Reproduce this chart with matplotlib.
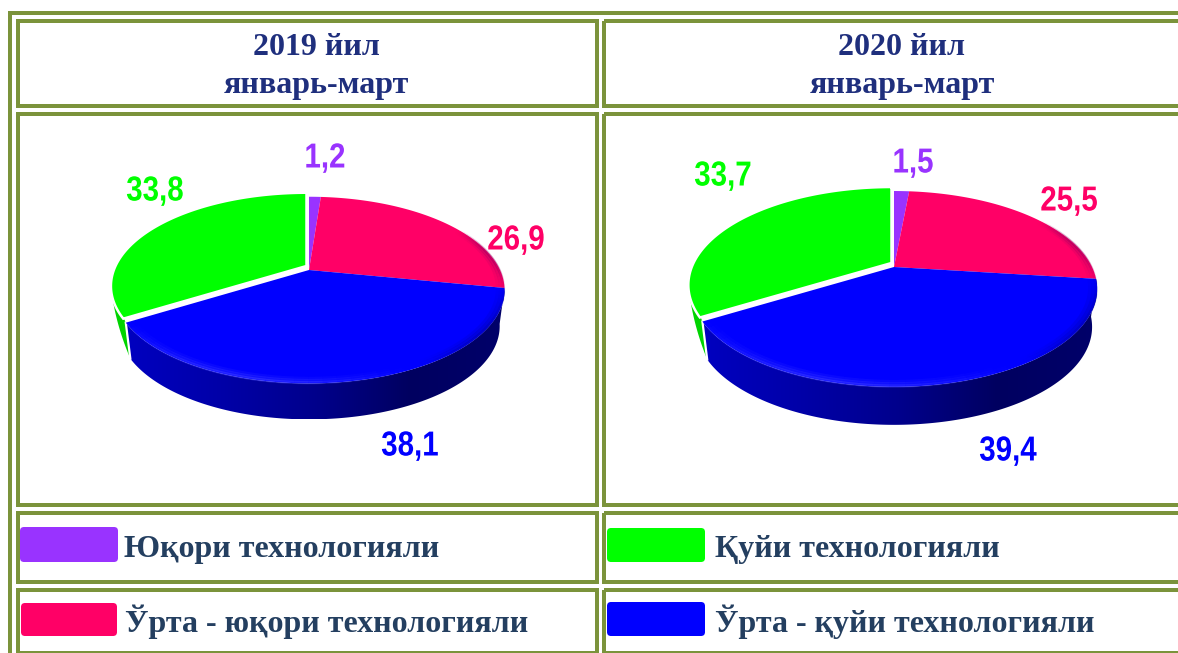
import numpy as np
import matplotlib
matplotlib.use('Agg')
import matplotlib.pyplot as plt
from matplotlib.patches import Polygon, FancyBboxPatch, Rectangle
from matplotlib.patheffects import AbstractPathEffect
from matplotlib.transforms import Affine2D
from matplotlib.colors import LinearSegmentedColormap

titles = ['2019 йил\nянварь-март', '2020 йил\nянварь-март']
categories = ['Юқори технологияли', 'Ўрта - юқори технологияли', 'Ўрта - қуйи технологияли', 'Қуйи технологияли']
values_2019 = [1.2, 26.9, 38.1, 33.8]
values_2020 = [1.5, 25.5, 39.4, 33.7]
labels_2019 = ['1,2', '26,9', '38,1', '33,8']
labels_2020 = ['1,5', '25,5', '39,4', '33,7']
colors = ['#9933ff', '#ff0066', '#0000ff', '#00ff00']

OLIVE = '#7b933b'
SERIF = ['Liberation Serif', 'DejaVu Serif']
SANS = ['Liberation Sans', 'DejaVu Sans']

fig = plt.figure(figsize=(11.78, 6.53), dpi=100)
ax = fig.add_axes([0, 0, 1, 1])
ax.set_xlim(0, 1178)
ax.set_ylim(653, 0)
ax.axis('off')
ax.set_autoscale_on(False)


class Squeeze(AbstractPathEffect):
    # no condensed font here, so narrow the glyphs around the text anchor
    def __init__(self, sx, x0):
        self.sx = sx
        self.x0 = x0

    def draw_path(self, renderer, gc, tpath, affine, rgbFace=None):
        tr = affine + Affine2D().translate(-self.x0, 0).scale(self.sx, 1).translate(self.x0, 0)
        renderer.draw_path(gc, tpath, tr, rgbFace)


def box(x0, y0, x1, y1):
    ax.add_patch(Rectangle((x0, y0), x1 - x0, y1 - y0, fill=False, ec=OLIVE, lw=2.88,
                           joinstyle='miter', zorder=1))


# table frame
ax.plot([1178, 10, 10], [13, 13, 653], color=OLIVE, lw=2.88, solid_capstyle='butt', solid_joinstyle='miter')
for x0, x1 in [(18, 597), (604, 1190)]:
    box(x0, 21, x1, 106)
    box(x0, 114, x1, 505)
    box(x0, 513, x1, 582)
    box(x0, 590, x1, 653)


def proj(theta, r, pie, shift=(0, 0), depth=0.0):
    # disc point -> screen, with a bit of perspective so the apex sits above the ellipse centre
    cx, cy, rx, ry, k, d = pie
    u = r * np.sin(theta)
    v = r * np.cos(theta)
    s = 1 / (1 + k * v)
    sx = 1 - 0.025 * depth
    return cx + shift[0] + rx * u * s * sx, cy + shift[1] - ry * v * s + d * depth


def gradient_side(xs, ys, cmap, z):
    poly = Polygon(np.column_stack([xs, ys]), closed=True, fc='none', ec='none', zorder=z)
    ax.add_patch(poly)
    im = ax.imshow(np.linspace(0, 1, 256).reshape(1, -1), cmap=cmap, aspect='auto',
                   extent=(min(xs), max(xs), max(ys), min(ys)), zorder=z)
    im.set_clip_path(poly)


def rim(t0, t1, color, peak, pie):
    # faded stroke near the edge, alpha goes 0 -> peak -> 0 along the arc
    n = 24
    ts = np.linspace(t0, t1, n + 1)
    for j in range(n):
        fade = np.sin(np.pi * (j + 0.5) / n)
        t = np.linspace(ts[j], ts[j + 1], 6)
        for r, a in [(0.995, 1.0), (0.98, 0.6), (0.965, 0.3)]:
            px, py = proj(t, r, pie)
            ax.plot(px, py, color=color, alpha=peak * a * fade, lw=2.3, zorder=4.2, solid_capstyle='butt')


blue_side = LinearSegmentedColormap.from_list('bs', ['#0000c0', '#0000a8', '#00008c', '#000060', '#00006a'])


def draw_pie(values, labels, pie, label_pos):
    total = sum(values)
    edges = np.cumsum([0] + values) / total * 2 * np.pi
    green_shift = (-2.5, -4)

    # side walls first
    t = np.linspace(edges[2], edges[3], 200)
    top = proj(t, 1, pie)
    bot = proj(t, 1, pie, depth=1)
    xs = np.r_[top[0], bot[0][::-1]]
    ys = np.r_[top[1], bot[1][::-1]]
    gradient_side(xs, ys, blue_side, 2)

    # green wall, narrows to a point going round to the back
    t = np.linspace(edges[3] + np.radians(18), edges[3], 30)
    lx, ly = proj(t, 1, pie, (green_shift[0] * np.linspace(1, 0, 30), green_shift[1] * np.linspace(1, 0, 30)),
                  depth=np.linspace(0, 1, 30))
    corner = proj(edges[3], 1, pie)
    xs = np.r_[corner[0], lx]
    ys = np.r_[corner[1], ly]
    ax.add_patch(Polygon(np.column_stack([xs, ys]), closed=True, fc='#00d400', ec='none', zorder=2.5))
    ax.plot([corner[0], lx[-1]], [corner[1], ly[-1]], color='white', lw=1.6, zorder=3)

    # top faces
    for i in range(4):
        t = np.linspace(edges[i], edges[i + 1], 200)
        shift = green_shift if i == 3 else (0, 0)
        px, py = proj(t, 1, pie, shift)
        ax0, ay0 = proj(0.0, 0, pie, shift)
        pts = np.column_stack([np.r_[ax0, px], np.r_[ay0, py]])
        if i == 3:
            ax.add_patch(Polygon(pts, closed=True, fc=colors[i], ec='white', lw=1.8, zorder=5))
        else:
            ax.add_patch(Polygon(pts, closed=True, fc=colors[i], ec='none', zorder=4))

    # soft rim: pink darkens toward the right, blue navy on the right, light along the front
    rim(edges[2] - np.radians(40), edges[2] + np.radians(2), '#800060', 0.4, pie)
    rim(edges[2] - np.radians(2), edges[2] + np.radians(50), '#000080', 0.4, pie)
    rim(edges[2] + np.radians(55), edges[3], '#5050ff', 0.4, pie)

    for i in range(4):
        txt = ax.text(label_pos[i][0], label_pos[i][1], labels[i], color=colors[i], family=SANS,
                      fontweight='bold', fontsize=25, ha='center', va='center', zorder=6)
        txt.set_path_effects([Squeeze(0.85, label_pos[i][0])])


draw_pie(values_2019, labels_2019, (309, 270, 191, 89, 0.215, 36),
         [(325, 158), (516, 240), (410, 446), (155, 191)])
draw_pie(values_2020, labels_2020, (894, 267, 198, 93, 0.224, 38),
         [(913, 163), (1069, 201), (1008, 451), (723, 176)])

for cx, title in zip([316, 902], titles):
    ax.text(cx, 66.5, title, color='#1f2f7d', family=SERIF, fontweight='bold', fontsize=23,
            ha='center', va='center', linespacing=1.45)

swatches = [(20, 527, 98, 35), (21, 603, 96, 33), (607, 602, 98, 34), (607, 528, 98, 34)]
text_pos = [(124, 547), (125, 622), (715, 622), (715, 547)]
for i in range(4):
    x, y, w, h = swatches[i]
    ax.add_patch(FancyBboxPatch((x + 3, y + 3), w - 6, h - 6, boxstyle='round,pad=3,rounding_size=4',
                                fc=colors[i], ec='none', zorder=3))
    ax.text(text_pos[i][0], text_pos[i][1] + (2 if i in (0, 3) else 0), categories[i], color='#243f60',
            family=SERIF, fontweight='bold', fontsize=23, ha='left', va='center')

fig.savefig('out.png', dpi=100)
